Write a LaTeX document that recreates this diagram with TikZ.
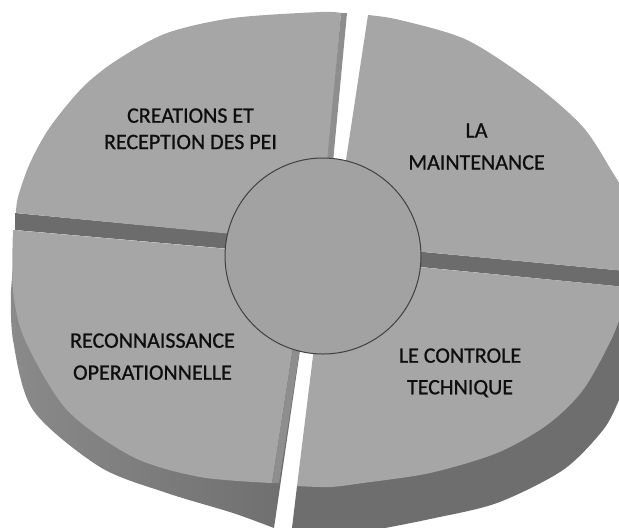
\documentclass[tikz,border=0pt]{standalone}
\usepackage{fontspec}
\setmainfont{Carlito}
\newfontfamily\lblfont{Carlito}[FakeBold=0.8]
\usepackage{tikz}
\definecolor{slab}{HTML}{A6A6A6}
\definecolor{rim}{HTML}{6C6C6C}
\definecolor{wallhi}{HTML}{8A8A8A}
\definecolor{walllo}{HTML}{6E6E6E}
\definecolor{edge}{HTML}{8E8E8E}
\definecolor{hubfill}{HTML}{A2A2A2}
\definecolor{ink}{HTML}{0E0E0E}

\begin{document}
\begin{tikzpicture}[x=0.5pt,y=-0.5pt,
  lbl/.style={font=\lblfont\fontsize{11}{13.2}\selectfont,text=ink,align=center,anchor=north,inner sep=0pt},
  hub/.style={circle,draw=black!75,line width=0.5pt,fill=hubfill,minimum size=98pt,inner sep=0pt},
  top/.style={fill=slab},
  band/.style={fill=rim},
  strip/.style={fill=edge}
]
\useasboundingbox (0,0) rectangle (619,527);
\clip (0,0) rectangle (619,527);
% side walls of the two lower pieces
\shade[left color=wallhi,right color=walllo] (16,230) -- plot[smooth] coordinates {(11,290) (13,340) (33,410) (100,467) (167,493) (233,513) (274,528)} -- (300,350) -- cycle;
\fill[walllo] (297,486) -- (292,528) -- plot[smooth] coordinates {(385,528) (430,519) (497,503) (563,470) (603,430) (619,400) (626,380)} -- (626,290) -- cycle;
% dark bands between upper and lower pieces
\fill[band] (15,213) -- (322,242) -- (322,257) -- (15,230) -- cycle;
\fill[band] (328,243) -- (626,271) -- (626,287) -- (328,258) -- cycle;
% upper pieces
\fill[top] (16,213) -- (325,243) -- (328,160) -- plot[smooth] coordinates {(341,13) (320,12) (233,18) (167,33) (117,60) (83,87) (50,127) (30,163) (18,197) (16,213)} -- cycle;
\fill[strip] (341,13) -- (347,13) -- (333,162) -- (327,162) -- cycle;
\fill[top] (346,160) -- plot[smooth] coordinates {(368,15) (400,20) (467,40) (533,83) (583,127) (613,173) (626,195)} -- (626,271) -- (328,243) -- cycle;
% lower pieces
\fill[top] (13,230) -- (307,256) -- plot[smooth] coordinates {(272,483) (200,477) (133,457) (67,410) (25,340) (13,290) (13,230)} -- cycle;
\fill[strip] (293,348) -- (300,348) -- (279,483) -- (272,483) -- cycle;
\fill[top] (325,258) -- (626,287) -- plot[smooth] coordinates {(626,300) (612,338) (583,390) (547,425) (497,453) (430,473) (363,483) (330,487) (297,486)} -- cycle;
% centre disc
\node[hub] (hub) at (323,256) {};
% labels
\node[lbl] (crea) at (190.5,108) {CREATIONS ET\\RECEPTION DES PEI};
\node[lbl] (maint) at (476.5,123) {LA\\[2.8pt]MAINTENANCE};
\node[lbl] (recon) at (152.5,333) {RECONNAISSANCE\\[2.8pt]OPERATIONNELLE};
\node[lbl] (ctrl) at (460,348) {LE CONTROLE\\[2.6pt]TECHNIQUE};
\end{tikzpicture}
\end{document}
